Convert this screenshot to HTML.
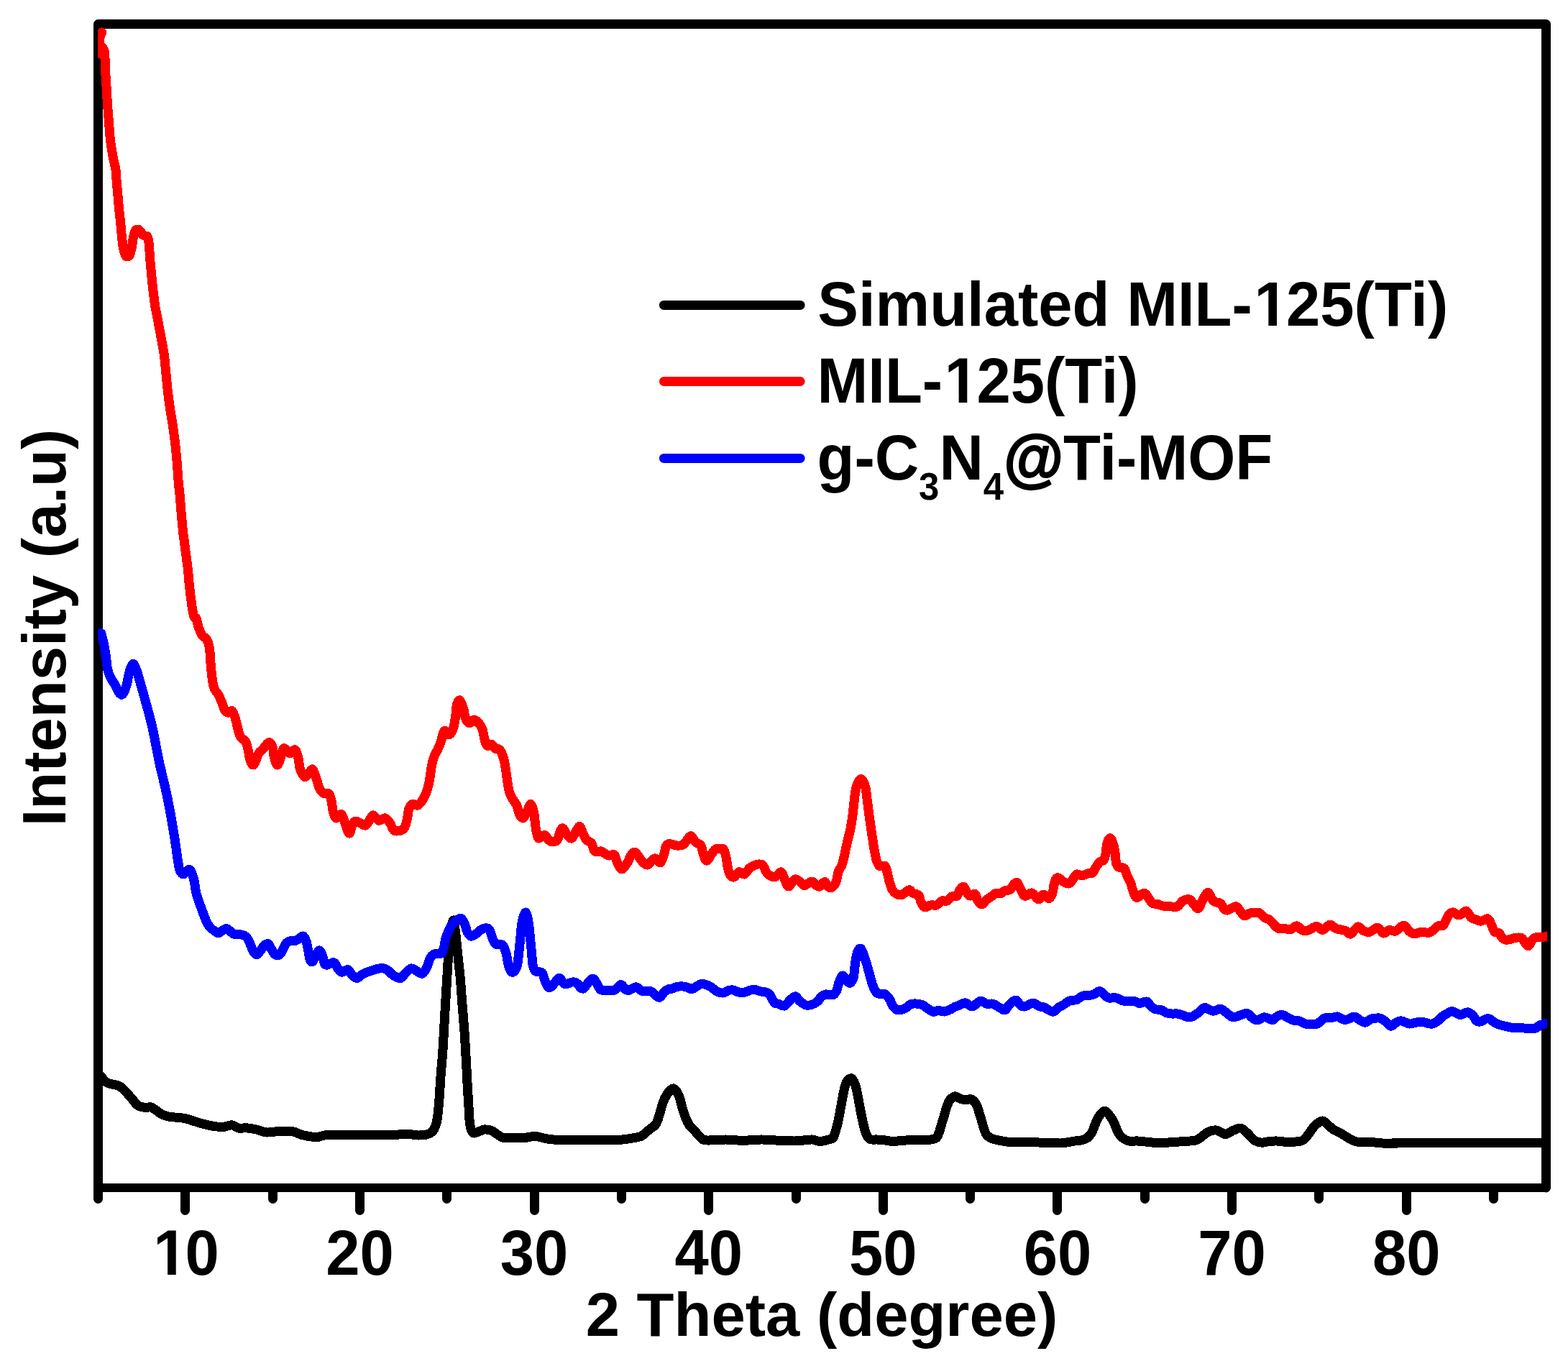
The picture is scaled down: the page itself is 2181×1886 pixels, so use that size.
<!DOCTYPE html>
<html lang="en">
<head>
<meta charset="utf-8">
<title>XRD patterns</title>
<style>
html,body{margin:0;padding:0;background:#fff;}
body{width:2181px;height:1886px;overflow:hidden;}
svg{display:block;}
text{font-family:"Liberation Sans",sans-serif;font-weight:bold;font-size:85px;fill:#000;}
.curve{fill:none;stroke-width:13;stroke-linejoin:round;stroke-linecap:round;}
</style>
</head>
<body>
<svg width="2181" height="1886" viewBox="0 0 2181 1886">
<defs><clipPath id="plot"><rect x="136.2" y="33" width="2016.0" height="1619"/></clipPath></defs>
<rect x="0" y="0" width="2181" height="1886" fill="#fff"/>
<g fill="none" stroke="#000" stroke-linecap="round" stroke-linejoin="round">
<path d="M136.5,1667.5 L136.5,33.5 L2150.5,33.5 L2150.5,1652" stroke-width="13"/>
<path d="M136.5,1652 L2150.5,1652" stroke-width="12"/>
<g stroke-width="13">
<line x1="257.5" y1="1653" x2="257.5" y2="1683.5"/>
<line x1="379.5" y1="1653" x2="379.5" y2="1667.5"/>
<line x1="500.5" y1="1653" x2="500.5" y2="1683.5"/>
<line x1="621.5" y1="1653" x2="621.5" y2="1667.5"/>
<line x1="743.5" y1="1653" x2="743.5" y2="1683.5"/>
<line x1="864.5" y1="1653" x2="864.5" y2="1667.5"/>
<line x1="985.5" y1="1653" x2="985.5" y2="1683.5"/>
<line x1="1107.5" y1="1653" x2="1107.5" y2="1667.5"/>
<line x1="1228.5" y1="1653" x2="1228.5" y2="1683.5"/>
<line x1="1349.5" y1="1653" x2="1349.5" y2="1667.5"/>
<line x1="1470.5" y1="1653" x2="1470.5" y2="1683.5"/>
<line x1="1592.5" y1="1653" x2="1592.5" y2="1667.5"/>
<line x1="1713.5" y1="1653" x2="1713.5" y2="1683.5"/>
<line x1="1834.5" y1="1653" x2="1834.5" y2="1667.5"/>
<line x1="1956.5" y1="1653" x2="1956.5" y2="1683.5"/>
<line x1="2077.5" y1="1653" x2="2077.5" y2="1667.5"/>
</g>
</g>
<g clip-path="url(#plot)" shape-rendering="crispEdges">
<path class="curve" stroke="#000" d="M140.5,1497.0 C141.7,1498.3 145.1,1503.2 147.5,1505.0 C149.9,1506.8 152.1,1506.9 155.0,1507.8 C157.9,1508.6 162.5,1509.0 165.0,1510.0 C167.5,1511.0 167.9,1511.9 170.0,1513.8 C172.1,1515.6 175.0,1518.5 177.5,1521.2 C180.0,1524.0 182.9,1527.5 185.0,1530.0 C187.1,1532.5 188.3,1534.8 190.0,1536.2 C191.7,1537.8 192.9,1538.3 195.0,1539.0 C197.1,1539.7 200.0,1540.3 202.5,1540.5 C205.0,1540.7 207.5,1539.3 210.0,1540.0 C212.5,1540.7 215.0,1542.9 217.5,1544.5 C220.0,1546.1 222.5,1548.4 225.0,1549.8 C227.5,1551.1 230.0,1551.8 232.5,1552.5 C235.0,1553.2 237.1,1553.4 240.0,1553.8 C242.9,1554.1 246.7,1554.1 250.0,1554.5 C253.3,1554.9 256.7,1555.4 260.0,1556.2 C263.3,1557.1 266.7,1558.5 270.0,1559.5 C273.3,1560.5 275.8,1561.4 280.0,1562.5 C284.2,1563.6 290.0,1565.2 295.0,1566.0 C300.0,1566.8 305.4,1567.7 310.0,1567.5 C314.6,1567.3 318.8,1564.5 322.5,1564.8 C326.2,1565.0 329.2,1568.6 332.5,1569.2 C335.8,1569.9 338.3,1568.4 342.5,1568.8 C346.7,1569.1 352.7,1570.2 357.5,1571.2 C362.3,1572.3 365.8,1574.7 371.2,1575.0 C376.7,1575.3 384.0,1573.5 390.0,1573.2 C396.0,1573.0 402.5,1572.9 407.5,1573.8 C412.5,1574.6 414.6,1577.2 420.0,1578.5 C425.4,1579.8 434.6,1581.5 440.0,1581.5 C445.4,1581.5 447.5,1579.3 452.5,1578.8 C457.5,1578.2 465.4,1578.0 470.0,1578.0 C474.6,1578.0 475.8,1578.7 480.0,1578.8 C484.2,1578.8 488.3,1578.2 495.0,1578.2 C501.7,1578.2 511.7,1578.7 520.0,1578.8 C528.3,1578.8 537.5,1579.0 545.0,1578.8 C552.5,1578.5 558.8,1577.2 565.0,1577.2 C571.2,1577.3 577.5,1579.0 582.5,1579.0 C587.5,1579.0 591.7,1578.6 595.0,1577.5 C598.3,1576.4 600.4,1575.4 602.5,1572.5 C604.6,1569.6 606.2,1566.2 607.5,1560.0 C608.8,1553.8 609.6,1545.4 610.5,1535.0 C611.4,1524.6 612.1,1510.0 613.0,1497.5 C613.9,1485.0 615.0,1474.6 616.0,1460.0 C617.0,1445.4 617.8,1426.7 618.8,1410.0 C619.7,1393.3 620.9,1374.6 621.8,1360.0 C622.6,1345.4 623.5,1330.0 624.0,1322.5 C624.5,1315.0 624.4,1320.0 625.0,1315.0 C625.6,1310.0 626.6,1298.4 627.5,1292.5 C628.4,1286.6 629.6,1279.8 630.5,1279.8 C631.4,1279.8 632.2,1286.6 633.0,1292.5 C633.8,1298.4 634.8,1307.9 635.5,1315.0 C636.2,1322.1 636.7,1327.5 637.5,1335.0 C638.3,1342.5 639.3,1349.6 640.2,1360.0 C641.2,1370.4 642.0,1385.0 643.0,1397.5 C644.0,1410.0 645.1,1422.5 646.0,1435.0 C646.9,1447.5 647.5,1460.0 648.2,1472.5 C649.0,1485.0 649.6,1498.8 650.2,1510.0 C650.9,1521.2 651.5,1531.7 652.0,1540.0 C652.5,1548.3 652.8,1555.0 653.2,1560.0 C653.8,1565.0 654.1,1567.3 655.0,1570.0 C655.9,1572.7 656.9,1575.4 658.8,1576.0 C660.6,1576.6 663.8,1574.6 666.2,1573.8 C668.8,1572.9 670.8,1571.2 673.8,1571.0 C676.7,1570.8 680.8,1571.4 683.8,1572.5 C686.7,1573.6 688.5,1575.8 691.2,1577.5 C694.0,1579.2 696.9,1581.8 700.0,1582.5 C703.1,1583.2 706.7,1582.0 710.0,1582.0 C713.3,1582.0 716.7,1582.4 720.0,1582.5 C723.3,1582.6 726.7,1582.8 730.0,1582.5 C733.3,1582.2 737.1,1581.0 740.0,1580.8 C742.9,1580.5 744.6,1580.3 747.5,1580.8 C750.4,1581.2 753.8,1582.5 757.5,1583.2 C761.2,1584.0 763.8,1584.6 770.0,1585.0 C776.2,1585.4 786.7,1585.6 795.0,1585.8 C803.3,1585.9 811.7,1585.8 820.0,1585.8 C828.3,1585.8 838.8,1585.8 845.0,1585.8 C851.2,1585.8 853.3,1586.0 857.5,1585.8 C861.7,1585.5 865.8,1585.0 870.0,1584.5 C874.2,1584.0 878.8,1583.2 882.5,1582.5 C886.2,1581.8 889.6,1581.5 892.5,1580.0 C895.4,1578.5 897.7,1575.6 900.0,1573.8 C902.3,1571.9 904.4,1570.2 906.2,1568.8 C908.1,1567.3 909.8,1566.9 911.2,1565.0 C912.7,1563.1 913.8,1560.8 915.0,1557.5 C916.2,1554.2 917.5,1549.2 918.8,1545.0 C920.0,1540.8 921.0,1536.2 922.5,1532.5 C924.0,1528.8 925.8,1525.2 927.5,1522.5 C929.2,1519.8 930.9,1517.7 932.5,1516.2 C934.1,1514.8 935.3,1513.4 937.0,1514.0 C938.7,1514.6 941.0,1517.3 942.5,1520.0 C944.0,1522.7 945.1,1526.2 946.2,1530.0 C947.4,1533.8 948.2,1538.3 949.5,1542.5 C950.8,1546.7 952.2,1551.2 953.8,1555.0 C955.3,1558.8 956.9,1562.3 958.8,1565.0 C960.6,1567.7 963.1,1569.2 965.0,1571.2 C966.9,1573.3 968.3,1575.6 970.0,1577.5 C971.7,1579.4 973.3,1581.1 975.0,1582.5 C976.7,1583.9 976.7,1585.2 980.0,1585.8 C983.3,1586.3 990.0,1585.9 995.0,1585.8 C1000.0,1585.6 1004.2,1584.9 1010.0,1585.0 C1015.8,1585.1 1024.2,1586.1 1030.0,1586.2 C1035.8,1586.4 1040.0,1586.0 1045.0,1585.8 C1050.0,1585.5 1053.8,1584.9 1060.0,1585.0 C1066.2,1585.1 1075.0,1585.9 1082.5,1586.2 C1090.0,1586.6 1098.8,1587.1 1105.0,1587.0 C1111.2,1586.9 1115.8,1586.1 1120.0,1585.8 C1124.2,1585.4 1127.1,1584.8 1130.0,1585.0 C1132.9,1585.2 1135.0,1586.7 1137.5,1587.0 C1140.0,1587.3 1142.5,1587.3 1145.0,1587.0 C1147.5,1586.7 1150.2,1585.8 1152.5,1585.0 C1154.8,1584.2 1157.1,1584.6 1158.8,1582.5 C1160.4,1580.4 1161.2,1576.7 1162.5,1572.5 C1163.8,1568.3 1165.0,1563.3 1166.2,1557.5 C1167.5,1551.7 1168.8,1544.2 1170.0,1537.5 C1171.2,1530.8 1172.5,1522.9 1173.8,1517.5 C1175.0,1512.1 1175.7,1508.0 1177.5,1505.0 C1179.3,1502.0 1182.4,1498.9 1184.5,1499.8 C1186.6,1500.6 1188.5,1505.4 1190.0,1510.0 C1191.5,1514.6 1192.5,1521.2 1193.8,1527.5 C1195.0,1533.8 1196.2,1541.2 1197.5,1547.5 C1198.8,1553.8 1200.0,1560.0 1201.2,1565.0 C1202.5,1570.0 1203.5,1574.2 1205.0,1577.5 C1206.5,1580.8 1207.5,1583.2 1210.0,1584.5 C1212.5,1585.8 1216.7,1584.8 1220.0,1585.0 C1223.3,1585.2 1226.2,1585.3 1230.0,1585.8 C1233.8,1586.2 1238.3,1587.4 1242.5,1587.5 C1246.7,1587.6 1250.4,1586.5 1255.0,1586.2 C1259.6,1586.0 1265.0,1585.8 1270.0,1585.8 C1275.0,1585.7 1280.8,1585.9 1285.0,1585.8 C1289.2,1585.6 1292.1,1585.5 1295.0,1585.0 C1297.9,1584.5 1300.6,1584.2 1302.5,1582.5 C1304.4,1580.8 1305.0,1578.3 1306.2,1575.0 C1307.5,1571.7 1308.8,1566.7 1310.0,1562.5 C1311.2,1558.3 1312.5,1554.2 1313.8,1550.0 C1315.0,1545.8 1316.2,1540.8 1317.5,1537.5 C1318.8,1534.2 1319.5,1532.1 1321.2,1530.0 C1323.0,1527.9 1325.3,1525.0 1328.0,1524.8 C1330.7,1524.5 1334.7,1528.0 1337.5,1528.8 C1340.3,1529.5 1342.7,1529.5 1345.0,1529.5 C1347.3,1529.5 1349.2,1528.1 1351.2,1529.0 C1353.3,1529.9 1355.8,1532.3 1357.5,1535.0 C1359.2,1537.7 1360.0,1541.2 1361.2,1545.0 C1362.5,1548.8 1363.8,1553.3 1365.0,1557.5 C1366.2,1561.7 1367.5,1566.5 1368.8,1570.0 C1370.0,1573.5 1370.6,1576.5 1372.5,1578.8 C1374.4,1581.0 1377.1,1582.5 1380.0,1583.8 C1382.9,1585.0 1386.2,1585.5 1390.0,1586.2 C1393.8,1587.0 1397.5,1587.9 1402.5,1588.2 C1407.5,1588.6 1413.8,1588.2 1420.0,1588.2 C1426.2,1588.3 1433.8,1588.5 1440.0,1588.8 C1446.2,1589.0 1451.7,1589.3 1457.5,1589.5 C1463.3,1589.7 1470.4,1590.1 1475.0,1590.0 C1479.6,1589.9 1481.7,1589.2 1485.0,1588.8 C1488.3,1588.2 1491.7,1587.5 1495.0,1587.0 C1498.3,1586.5 1502.1,1586.5 1505.0,1585.8 C1507.9,1585.0 1510.2,1584.3 1512.5,1582.5 C1514.8,1580.7 1516.9,1578.3 1518.8,1575.0 C1520.6,1571.7 1522.1,1566.2 1523.8,1562.5 C1525.4,1558.8 1526.5,1555.4 1528.8,1552.5 C1531.0,1549.6 1534.3,1545.0 1537.0,1545.2 C1539.7,1545.5 1542.8,1550.9 1545.0,1553.8 C1547.2,1556.6 1548.3,1559.0 1550.0,1562.5 C1551.7,1566.0 1553.1,1571.7 1555.0,1575.0 C1556.9,1578.3 1558.8,1580.5 1561.2,1582.5 C1563.8,1584.5 1566.5,1586.2 1570.0,1587.0 C1573.5,1587.8 1577.5,1586.7 1582.5,1587.0 C1587.5,1587.3 1594.6,1588.2 1600.0,1588.8 C1605.4,1589.2 1610.4,1590.0 1615.0,1590.0 C1619.6,1590.0 1623.7,1589.0 1627.5,1588.8 C1631.3,1588.5 1635.1,1588.5 1638.0,1588.2 C1640.9,1588.0 1642.2,1587.7 1645.0,1587.5 C1647.8,1587.3 1651.7,1587.3 1655.0,1587.0 C1658.3,1586.7 1662.3,1586.5 1665.0,1585.5 C1667.7,1584.5 1669.2,1582.8 1671.2,1581.2 C1673.3,1579.7 1675.4,1577.6 1677.5,1576.2 C1679.6,1574.9 1681.5,1573.7 1683.8,1573.0 C1686.0,1572.3 1688.8,1571.7 1691.2,1572.0 C1693.8,1572.3 1696.5,1574.1 1698.8,1575.0 C1701.0,1575.9 1702.3,1577.9 1705.0,1577.5 C1707.7,1577.1 1711.7,1573.9 1715.0,1572.5 C1718.3,1571.1 1722.1,1568.8 1725.0,1569.0 C1727.9,1569.2 1730.2,1571.9 1732.5,1573.8 C1734.8,1575.6 1736.7,1577.9 1738.8,1580.0 C1740.8,1582.1 1742.3,1584.7 1745.0,1586.2 C1747.7,1587.8 1751.7,1589.0 1755.0,1589.2 C1758.3,1589.5 1761.5,1587.9 1765.0,1587.5 C1768.5,1587.1 1772.5,1586.9 1776.2,1587.0 C1780.0,1587.1 1784.0,1588.0 1787.5,1588.2 C1791.0,1588.5 1794.2,1588.4 1797.5,1588.2 C1800.8,1588.1 1804.8,1588.0 1807.5,1587.5 C1810.2,1587.0 1811.7,1586.7 1813.8,1585.0 C1815.8,1583.3 1817.9,1580.2 1820.0,1577.5 C1822.1,1574.8 1824.2,1571.2 1826.2,1568.8 C1828.3,1566.2 1830.2,1564.1 1832.5,1562.5 C1834.8,1560.9 1837.5,1558.6 1840.0,1559.0 C1842.5,1559.4 1845.0,1563.0 1847.5,1565.0 C1850.0,1567.0 1852.1,1569.4 1855.0,1571.2 C1857.9,1573.1 1861.7,1574.4 1865.0,1576.2 C1868.3,1578.1 1871.7,1580.6 1875.0,1582.5 C1878.3,1584.4 1881.7,1586.5 1885.0,1587.5 C1888.3,1588.5 1890.8,1588.5 1895.0,1588.8 C1899.2,1589.0 1905.4,1588.5 1910.0,1588.8 C1914.6,1589.0 1916.7,1589.8 1922.5,1590.0 C1928.3,1590.2 1939.6,1590.1 1945.0,1590.0 C1950.4,1589.9 1920.0,1589.6 1955.0,1589.5 C1990.0,1589.4 2121.7,1589.5 2155.0,1589.5"/>
<path class="curve" stroke="#f00" d="M138.5,64.0 C139.5,64.9 143.4,65.3 144.7,69.5 C146.0,73.7 146.0,83.1 146.4,89.0 C146.8,94.9 146.7,99.8 147.0,105.0 C147.3,110.2 147.6,113.3 148.0,120.0 C148.4,126.7 148.9,136.7 149.5,145.0 C150.1,153.3 150.8,161.7 151.5,170.0 C152.2,178.3 152.6,187.1 153.5,195.0 C154.4,202.9 155.8,210.8 157.0,217.5 C158.2,224.2 159.9,229.2 160.8,235.0 C161.6,240.8 161.8,246.7 162.2,252.5 C162.8,258.3 163.2,263.8 163.8,270.0 C164.3,276.2 164.9,283.8 165.5,290.0 C166.1,296.2 166.9,301.7 167.5,307.5 C168.1,313.3 168.4,319.2 169.0,325.0 C169.6,330.8 170.2,337.7 171.0,342.5 C171.8,347.3 172.8,351.3 173.8,353.8 C174.8,356.2 175.8,357.0 177.0,357.0 C178.2,357.0 179.7,356.2 180.8,353.8 C181.8,351.3 182.7,346.5 183.5,342.5 C184.3,338.5 184.8,333.5 185.5,330.0 C186.2,326.5 187.0,323.1 188.0,321.2 C189.0,319.4 190.3,319.0 191.5,319.0 C192.7,319.0 193.9,320.0 195.0,321.2 C196.1,322.5 197.0,325.1 198.0,326.2 C199.0,327.4 200.1,327.5 201.2,328.0 C202.4,328.5 204.0,327.4 205.0,329.0 C206.0,330.6 206.4,332.8 207.0,337.5 C207.6,342.2 208.0,350.8 208.5,357.5 C209.0,364.2 209.7,371.2 210.2,377.5 C210.8,383.8 211.4,389.2 212.0,395.0 C212.6,400.8 213.3,407.1 214.0,412.5 C214.7,417.9 215.1,422.1 216.0,427.5 C216.9,432.9 218.2,438.2 219.5,445.0 C220.8,451.8 222.3,460.0 223.8,468.0 C225.2,476.0 227.1,484.7 228.2,493.0 C229.4,501.3 229.9,509.7 230.8,518.0 C231.6,526.3 232.3,534.7 233.2,543.0 C234.2,551.3 235.3,559.7 236.5,568.0 C237.7,576.3 239.3,584.7 240.5,593.0 C241.7,601.3 242.8,609.7 243.8,618.0 C244.7,626.3 245.5,634.7 246.2,643.0 C247.0,651.3 247.3,659.7 248.0,668.0 C248.7,676.3 249.8,684.7 250.5,693.0 C251.2,701.3 251.8,709.7 252.5,718.0 C253.2,726.3 254.0,734.7 255.0,743.0 C256.0,751.3 257.2,759.7 258.2,768.0 C259.3,776.3 260.6,784.7 261.5,793.0 C262.4,801.3 262.8,809.7 263.8,818.0 C264.7,826.3 266.0,836.3 267.0,843.0 C268.0,849.7 269.0,855.2 270.0,858.0 C271.0,860.8 272.0,857.6 273.0,860.0 C274.0,862.4 274.9,868.5 276.2,872.5 C277.6,876.5 279.5,881.0 281.2,883.8 C283.0,886.5 285.3,886.0 287.0,888.8 C288.7,891.5 290.2,894.4 291.2,900.0 C292.2,905.6 292.4,915.4 293.0,922.5 C293.6,929.6 294.2,936.7 295.0,942.5 C295.8,948.3 296.5,953.5 298.0,957.5 C299.5,961.5 302.0,962.9 303.8,966.2 C305.5,969.6 307.3,974.0 308.8,977.5 C310.2,981.0 311.0,985.2 312.5,987.5 C314.0,989.8 315.8,991.0 317.5,991.2 C319.2,991.5 321.3,987.5 323.0,989.0 C324.7,990.5 326.1,995.7 327.5,1000.0 C328.9,1004.3 330.1,1010.8 331.2,1015.0 C332.4,1019.2 332.8,1022.3 334.5,1025.0 C336.2,1027.7 339.5,1028.1 341.2,1031.0 C343.0,1033.9 343.9,1038.1 345.0,1042.5 C346.1,1046.9 346.8,1053.9 348.0,1057.5 C349.2,1061.1 350.6,1064.0 352.0,1064.0 C353.4,1064.0 354.9,1060.2 356.2,1057.5 C357.6,1054.8 358.3,1050.2 360.0,1047.5 C361.7,1044.8 364.4,1043.3 366.2,1041.2 C368.1,1039.2 369.8,1036.4 371.2,1035.0 C372.7,1033.6 373.6,1031.9 375.0,1032.8 C376.4,1033.6 378.5,1036.7 379.5,1040.0 C380.5,1043.3 380.2,1048.5 381.2,1052.5 C382.2,1056.5 384.0,1063.6 385.5,1064.0 C387.0,1064.4 388.8,1058.2 390.0,1055.0 C391.2,1051.8 391.5,1047.4 392.5,1045.0 C393.5,1042.6 394.0,1040.2 395.8,1040.8 C397.5,1041.2 400.5,1047.7 403.0,1048.0 C405.5,1048.3 408.5,1041.6 410.5,1042.8 C412.5,1043.9 413.8,1050.5 415.0,1055.0 C416.2,1059.5 416.0,1065.8 417.5,1070.0 C419.0,1074.2 421.7,1079.7 423.8,1080.5 C425.8,1081.3 428.1,1076.7 430.0,1075.0 C431.9,1073.3 433.3,1069.0 435.0,1070.2 C436.7,1071.5 438.5,1078.4 440.0,1082.5 C441.5,1086.6 442.1,1091.5 443.8,1095.0 C445.4,1098.5 447.7,1102.0 450.0,1103.5 C452.3,1105.0 455.6,1102.1 457.5,1104.0 C459.4,1105.9 460.3,1111.1 461.2,1115.0 C462.2,1118.9 462.0,1123.7 463.0,1127.5 C464.0,1131.3 465.5,1137.1 467.5,1138.0 C469.5,1138.9 472.9,1131.6 475.0,1132.8 C477.1,1133.9 478.2,1140.6 480.0,1145.0 C481.8,1149.4 484.1,1158.6 485.8,1159.0 C487.4,1159.4 488.6,1150.3 490.0,1147.5 C491.4,1144.7 492.4,1142.4 494.2,1142.0 C496.1,1141.6 498.8,1144.0 501.2,1145.0 C503.7,1146.0 506.5,1149.0 508.8,1148.0 C511.0,1147.0 513.2,1141.1 515.0,1138.8 C516.8,1136.4 517.2,1133.6 519.2,1134.0 C521.2,1134.4 524.3,1140.6 527.0,1141.2 C529.7,1141.9 532.9,1137.1 535.5,1137.8 C538.1,1138.4 540.7,1142.5 542.5,1145.0 C544.3,1147.5 544.9,1150.7 546.2,1152.5 C547.6,1154.3 548.0,1155.9 550.5,1156.0 C553.0,1156.1 558.6,1155.7 561.2,1153.0 C563.9,1150.3 565.0,1144.7 566.2,1140.0 C567.5,1135.3 567.5,1128.6 568.8,1125.0 C570.0,1121.4 571.7,1119.1 573.8,1118.2 C575.8,1117.4 578.8,1121.2 581.2,1120.0 C583.8,1118.8 586.7,1114.6 588.8,1111.2 C590.8,1107.9 592.3,1104.4 593.8,1100.0 C595.2,1095.6 596.5,1090.4 597.5,1085.0 C598.5,1079.6 599.0,1072.9 600.0,1067.5 C601.0,1062.1 602.3,1056.7 603.8,1052.5 C605.2,1048.3 607.1,1046.2 608.8,1042.5 C610.4,1038.8 612.5,1033.8 613.8,1030.0 C615.0,1026.2 615.4,1022.2 616.2,1020.0 C617.1,1017.8 618.1,1016.5 618.8,1016.5 C619.4,1016.5 618.8,1019.2 620.0,1020.0 C621.2,1020.8 624.4,1022.7 626.2,1021.0 C628.1,1019.3 630.0,1014.3 631.2,1010.0 C632.5,1005.7 633.0,1000.0 633.8,995.0 C634.5,990.0 634.5,983.5 635.5,980.0 C636.5,976.5 638.0,973.2 639.5,974.0 C641.0,974.8 643.2,981.1 644.5,985.0 C645.8,988.9 645.9,994.2 647.0,997.5 C648.1,1000.8 649.9,1003.8 651.2,1005.0 C652.6,1006.2 653.6,1005.7 655.0,1005.0 C656.4,1004.3 657.6,1000.8 659.5,1001.0 C661.4,1001.2 664.3,1003.9 666.2,1006.2 C668.2,1008.6 670.0,1011.5 671.2,1015.0 C672.5,1018.5 672.8,1024.0 673.8,1027.5 C674.7,1031.0 676.0,1034.7 677.0,1036.2 C678.0,1037.8 678.9,1037.2 680.0,1037.0 C681.1,1036.8 682.3,1034.5 683.8,1035.2 C685.2,1036.0 686.9,1040.0 688.8,1041.2 C690.6,1042.5 693.0,1040.5 695.0,1042.8 C697.0,1045.0 699.0,1050.0 700.5,1055.0 C702.0,1060.0 702.8,1066.7 703.8,1072.5 C704.7,1078.3 705.4,1085.0 706.2,1090.0 C707.1,1095.0 707.5,1098.8 708.8,1102.5 C710.0,1106.2 712.1,1109.6 713.8,1112.5 C715.4,1115.4 717.3,1116.7 718.8,1120.0 C720.2,1123.3 721.0,1129.5 722.5,1132.5 C724.0,1135.5 725.8,1138.4 727.5,1138.0 C729.2,1137.6 730.8,1133.2 732.5,1130.0 C734.2,1126.8 736.3,1118.5 738.0,1118.5 C739.7,1118.5 741.3,1124.8 742.5,1130.0 C743.7,1135.2 744.2,1144.6 745.0,1150.0 C745.8,1155.4 746.7,1159.8 747.5,1162.5 C748.3,1165.2 748.3,1166.2 750.0,1166.0 C751.7,1165.8 755.4,1161.2 757.5,1161.5 C759.6,1161.8 760.9,1166.0 762.5,1167.5 C764.1,1169.0 764.9,1170.3 767.0,1170.5 C769.1,1170.7 773.0,1170.9 775.0,1168.8 C777.0,1166.6 777.4,1160.3 778.8,1157.5 C780.1,1154.7 781.3,1151.4 783.0,1152.0 C784.7,1152.6 786.8,1158.9 788.8,1161.2 C790.8,1163.6 793.0,1166.6 795.0,1166.0 C797.0,1165.4 798.6,1160.2 800.5,1157.5 C802.4,1154.8 804.5,1149.1 806.2,1149.5 C808.0,1149.9 809.6,1156.8 811.2,1160.0 C812.9,1163.2 814.4,1166.7 816.2,1168.8 C818.1,1170.8 820.8,1170.2 822.5,1172.5 C824.2,1174.8 825.0,1180.5 826.2,1182.5 C827.5,1184.5 828.3,1184.5 830.0,1184.8 C831.7,1185.0 834.0,1183.3 836.2,1184.0 C838.5,1184.7 841.9,1187.8 843.8,1188.8 C845.6,1189.8 845.7,1190.0 847.5,1190.0 C849.3,1190.0 852.6,1187.3 854.5,1189.0 C856.4,1190.7 857.0,1196.7 858.8,1200.0 C860.5,1203.3 862.7,1209.0 865.0,1209.0 C867.3,1209.0 870.4,1203.2 872.5,1200.0 C874.6,1196.8 875.8,1192.5 877.5,1190.0 C879.2,1187.5 880.9,1184.6 883.0,1185.2 C885.1,1185.9 888.0,1191.3 890.0,1193.8 C892.0,1196.2 893.2,1198.5 895.0,1200.0 C896.8,1201.5 898.6,1203.4 900.5,1203.0 C902.4,1202.6 904.5,1199.0 906.2,1197.5 C908.0,1196.0 909.2,1193.6 911.2,1194.0 C913.3,1194.4 916.7,1200.8 918.8,1199.8 C920.8,1198.7 922.5,1191.2 923.8,1187.5 C925.0,1183.8 925.1,1179.8 926.2,1177.5 C927.4,1175.2 928.0,1173.8 930.5,1173.5 C933.0,1173.2 938.0,1175.8 941.2,1176.0 C944.5,1176.2 947.5,1176.4 950.0,1175.0 C952.5,1173.6 954.4,1169.5 956.2,1167.5 C958.1,1165.5 959.4,1162.1 961.2,1162.8 C963.1,1163.4 965.2,1169.0 967.5,1171.2 C969.8,1173.5 973.2,1173.3 975.0,1176.0 C976.8,1178.7 976.7,1184.0 978.0,1187.5 C979.3,1191.0 981.0,1197.2 983.0,1197.2 C985.0,1197.2 988.0,1190.2 990.0,1187.5 C992.0,1184.8 993.1,1182.4 995.0,1181.2 C996.9,1180.1 999.4,1180.8 1001.2,1180.8 C1003.1,1180.8 1004.8,1179.3 1006.2,1181.2 C1007.7,1183.2 1009.0,1188.1 1010.0,1192.5 C1011.0,1196.9 1011.5,1203.3 1012.5,1207.5 C1013.5,1211.7 1014.8,1215.5 1016.2,1217.5 C1017.7,1219.5 1019.3,1220.5 1021.2,1219.8 C1023.2,1219.0 1025.6,1213.4 1028.0,1212.8 C1030.4,1212.1 1033.1,1216.9 1035.5,1216.0 C1037.9,1215.1 1040.3,1209.5 1042.5,1207.5 C1044.7,1205.5 1046.7,1204.7 1048.8,1203.8 C1050.8,1202.8 1052.9,1202.0 1055.0,1202.0 C1057.1,1202.0 1059.2,1201.6 1061.2,1203.8 C1063.3,1205.9 1064.7,1212.3 1067.5,1215.0 C1070.3,1217.7 1074.9,1220.1 1078.0,1219.8 C1081.1,1219.4 1084.0,1212.3 1086.2,1212.8 C1088.5,1213.2 1089.5,1219.1 1091.2,1222.5 C1093.0,1225.9 1094.5,1233.0 1097.0,1233.0 C1099.5,1233.0 1102.8,1223.1 1106.2,1222.8 C1109.8,1222.4 1115.7,1229.6 1118.0,1231.0 C1120.3,1232.4 1118.1,1232.1 1120.0,1231.2 C1121.9,1230.4 1127.0,1226.0 1129.5,1226.0 C1132.0,1226.0 1133.2,1230.1 1135.0,1231.2 C1136.8,1232.4 1138.0,1233.8 1140.0,1233.0 C1142.0,1232.2 1145.1,1226.6 1147.0,1226.5 C1148.9,1226.4 1149.7,1231.1 1151.2,1232.5 C1152.8,1233.9 1154.4,1235.6 1156.2,1234.8 C1158.1,1233.9 1160.8,1231.2 1162.5,1227.5 C1164.2,1223.8 1164.8,1216.7 1166.2,1212.5 C1167.7,1208.3 1169.8,1206.7 1171.2,1202.5 C1172.7,1198.3 1173.8,1192.9 1175.0,1187.5 C1176.2,1182.1 1177.5,1175.4 1178.8,1170.0 C1180.0,1164.6 1181.4,1160.4 1182.5,1155.0 C1183.6,1149.6 1184.7,1143.3 1185.5,1137.5 C1186.3,1131.7 1186.8,1126.2 1187.5,1120.0 C1188.2,1113.8 1189.0,1105.4 1190.0,1100.0 C1191.0,1094.6 1192.3,1090.2 1193.8,1087.5 C1195.2,1084.8 1197.1,1082.8 1198.8,1084.0 C1200.4,1085.2 1202.5,1090.2 1203.8,1095.0 C1205.0,1099.8 1205.4,1106.2 1206.2,1112.5 C1207.1,1118.8 1207.9,1126.2 1208.8,1132.5 C1209.6,1138.8 1210.4,1144.2 1211.2,1150.0 C1212.1,1155.8 1212.9,1162.1 1213.8,1167.5 C1214.6,1172.9 1215.3,1177.5 1216.2,1182.5 C1217.2,1187.5 1218.2,1193.8 1219.5,1197.5 C1220.8,1201.2 1221.8,1203.5 1223.8,1204.8 C1225.7,1206.0 1229.4,1202.6 1231.2,1204.8 C1233.1,1206.9 1234.0,1213.7 1235.0,1217.5 C1236.0,1221.3 1236.5,1224.2 1237.5,1227.5 C1238.5,1230.8 1239.8,1234.9 1241.2,1237.5 C1242.7,1240.1 1244.2,1241.8 1246.2,1243.0 C1248.3,1244.2 1250.7,1245.6 1253.8,1244.8 C1256.8,1243.9 1261.8,1238.1 1264.5,1237.8 C1267.2,1237.4 1267.8,1241.3 1270.0,1242.5 C1272.2,1243.7 1275.6,1242.9 1277.5,1245.0 C1279.4,1247.1 1279.8,1252.2 1281.2,1255.0 C1282.7,1257.8 1284.0,1261.1 1286.2,1261.8 C1288.5,1262.4 1292.3,1259.2 1295.0,1258.8 C1297.7,1258.3 1300.0,1260.0 1302.5,1259.0 C1305.0,1258.0 1307.5,1254.0 1310.0,1253.0 C1312.5,1252.0 1315.2,1254.0 1317.5,1253.0 C1319.8,1252.0 1321.5,1248.1 1323.8,1247.0 C1326.0,1245.9 1329.4,1247.8 1331.2,1246.2 C1333.1,1244.7 1333.5,1239.6 1335.0,1237.5 C1336.5,1235.4 1338.6,1232.5 1340.5,1233.5 C1342.4,1234.5 1344.8,1241.7 1346.2,1243.8 C1347.8,1245.8 1347.8,1246.0 1349.5,1246.0 C1351.2,1246.0 1354.5,1242.4 1356.2,1243.5 C1358.0,1244.6 1358.5,1250.1 1360.0,1252.5 C1361.5,1254.9 1363.4,1258.2 1365.5,1258.0 C1367.6,1257.8 1370.1,1253.2 1372.5,1251.2 C1374.9,1249.3 1377.9,1247.7 1380.0,1246.2 C1382.1,1244.8 1382.9,1243.1 1385.0,1242.5 C1387.1,1241.9 1390.4,1243.1 1392.5,1242.5 C1394.6,1241.9 1395.4,1239.6 1397.5,1238.8 C1399.6,1237.9 1402.9,1239.0 1405.0,1237.5 C1407.1,1236.0 1408.3,1231.6 1410.0,1230.0 C1411.7,1228.4 1413.3,1226.5 1415.0,1227.8 C1416.7,1229.0 1418.5,1234.6 1420.0,1237.5 C1421.5,1240.4 1422.5,1243.6 1423.8,1245.0 C1425.0,1246.4 1425.5,1246.5 1427.5,1246.0 C1429.5,1245.5 1432.7,1241.2 1435.5,1242.0 C1438.3,1242.8 1441.9,1250.7 1444.5,1251.0 C1447.1,1251.3 1448.9,1244.2 1451.2,1244.0 C1453.6,1243.8 1456.7,1250.0 1458.8,1249.8 C1460.8,1249.5 1462.5,1245.8 1463.8,1242.5 C1465.0,1239.2 1465.4,1233.3 1466.2,1230.0 C1467.1,1226.7 1467.7,1224.0 1468.8,1222.5 C1469.8,1221.0 1470.8,1220.4 1472.5,1221.0 C1474.2,1221.6 1476.3,1224.9 1478.8,1226.2 C1481.2,1227.6 1484.7,1229.6 1487.0,1229.0 C1489.3,1228.4 1490.8,1224.7 1492.5,1222.5 C1494.2,1220.3 1495.4,1216.8 1497.5,1216.0 C1499.6,1215.2 1502.5,1218.2 1505.0,1218.0 C1507.5,1217.8 1510.0,1215.7 1512.5,1215.0 C1515.0,1214.3 1517.9,1215.4 1520.0,1213.8 C1522.1,1212.1 1523.3,1207.5 1525.0,1205.0 C1526.7,1202.5 1528.3,1200.2 1530.0,1198.8 C1531.7,1197.3 1533.7,1198.1 1535.0,1196.2 C1536.3,1194.4 1537.2,1191.5 1538.0,1187.5 C1538.8,1183.5 1538.9,1176.1 1540.0,1172.5 C1541.1,1168.9 1543.0,1165.3 1544.5,1165.8 C1546.0,1166.2 1547.6,1171.4 1548.8,1175.0 C1549.9,1178.6 1550.6,1183.3 1551.2,1187.5 C1551.9,1191.7 1551.7,1196.9 1552.5,1200.0 C1553.3,1203.1 1554.4,1205.0 1556.2,1206.2 C1558.1,1207.5 1561.9,1205.9 1563.8,1207.8 C1565.6,1209.6 1566.0,1214.2 1567.5,1217.5 C1569.0,1220.8 1571.0,1223.8 1572.5,1227.5 C1574.0,1231.2 1574.8,1236.5 1576.2,1240.0 C1577.7,1243.5 1578.8,1248.1 1581.2,1248.5 C1583.8,1248.9 1588.5,1242.2 1591.2,1242.2 C1594.0,1242.3 1595.6,1246.4 1597.5,1248.8 C1599.4,1251.1 1600.4,1254.8 1602.5,1256.2 C1604.6,1257.7 1607.5,1256.9 1610.0,1257.5 C1612.5,1258.1 1614.6,1259.5 1617.5,1260.0 C1620.4,1260.5 1624.1,1260.6 1627.5,1260.8 C1630.9,1260.9 1635.1,1262.0 1638.0,1260.8 C1640.9,1259.5 1642.2,1254.6 1645.0,1253.0 C1647.8,1251.4 1652.3,1250.3 1655.0,1251.2 C1657.7,1252.2 1659.2,1256.7 1661.2,1258.8 C1663.2,1260.8 1665.1,1264.5 1667.0,1263.5 C1668.9,1262.5 1670.3,1256.2 1672.5,1252.5 C1674.7,1248.8 1677.7,1241.7 1680.0,1241.5 C1682.3,1241.3 1684.4,1249.0 1686.2,1251.2 C1688.1,1253.5 1689.4,1254.2 1691.2,1255.0 C1693.1,1255.8 1695.6,1254.8 1697.5,1256.2 C1699.4,1257.7 1700.8,1262.1 1702.5,1263.8 C1704.2,1265.4 1704.7,1266.5 1707.5,1266.0 C1710.3,1265.5 1716.1,1260.3 1719.2,1260.8 C1722.4,1261.2 1724.2,1266.5 1726.2,1268.8 C1728.2,1271.0 1729.2,1273.8 1731.2,1274.0 C1733.3,1274.2 1736.5,1270.7 1738.8,1270.0 C1741.0,1269.3 1742.9,1270.1 1745.0,1270.0 C1747.1,1269.9 1749.0,1268.5 1751.2,1269.5 C1753.5,1270.5 1756.5,1274.7 1758.8,1276.2 C1761.0,1277.8 1763.1,1277.5 1765.0,1278.8 C1766.9,1280.0 1768.1,1281.9 1770.0,1283.8 C1771.9,1285.6 1774.6,1288.6 1776.2,1290.0 C1777.9,1291.4 1778.3,1291.8 1780.0,1292.0 C1781.7,1292.2 1783.8,1291.1 1786.2,1291.2 C1788.8,1291.4 1792.1,1293.3 1795.0,1292.8 C1797.9,1292.2 1801.0,1287.6 1803.8,1287.8 C1806.5,1287.9 1808.8,1292.7 1811.2,1293.8 C1813.8,1294.8 1815.4,1295.1 1818.8,1294.2 C1822.1,1293.4 1827.7,1288.6 1831.2,1288.5 C1834.8,1288.4 1836.9,1293.9 1840.0,1293.5 C1843.1,1293.1 1847.1,1286.4 1850.0,1286.0 C1852.9,1285.6 1855.0,1290.1 1857.5,1291.2 C1860.0,1292.4 1862.5,1292.4 1865.0,1293.0 C1867.5,1293.6 1870.2,1294.0 1872.5,1295.0 C1874.8,1296.0 1876.0,1300.0 1878.8,1299.0 C1881.5,1298.0 1885.8,1289.8 1888.8,1289.0 C1891.7,1288.2 1893.5,1293.3 1896.2,1294.5 C1899.0,1295.7 1901.7,1297.0 1905.0,1296.2 C1908.3,1295.5 1913.0,1290.0 1916.2,1290.2 C1919.5,1290.5 1921.8,1297.5 1924.5,1298.0 C1927.2,1298.5 1929.7,1294.0 1932.5,1293.5 C1935.3,1293.0 1937.9,1296.1 1941.2,1295.0 C1944.6,1293.9 1949.4,1287.0 1952.5,1287.0 C1955.6,1287.0 1957.6,1293.0 1960.0,1295.0 C1962.4,1297.0 1964.1,1298.8 1967.0,1299.0 C1969.9,1299.2 1974.1,1296.5 1977.5,1296.2 C1980.9,1296.0 1984.6,1297.9 1987.5,1297.2 C1990.4,1296.6 1992.9,1294.0 1995.0,1292.5 C1997.1,1291.0 1997.9,1288.9 2000.0,1288.0 C2002.1,1287.1 2005.4,1288.8 2007.5,1287.0 C2009.6,1285.2 2011.0,1280.1 2012.5,1277.5 C2014.0,1274.9 2014.8,1272.7 2016.2,1271.2 C2017.7,1269.8 2019.0,1268.7 2021.2,1269.0 C2023.5,1269.3 2027.0,1273.3 2030.0,1273.0 C2033.0,1272.7 2036.8,1266.5 2039.5,1267.0 C2042.2,1267.5 2044.1,1274.3 2046.2,1276.2 C2048.4,1278.2 2050.2,1277.9 2052.5,1278.8 C2054.8,1279.6 2057.2,1281.4 2060.0,1281.2 C2062.8,1281.1 2067.0,1276.7 2069.5,1277.8 C2072.0,1278.8 2073.5,1284.4 2075.0,1287.5 C2076.5,1290.6 2077.1,1294.6 2078.8,1296.2 C2080.4,1297.9 2083.1,1296.0 2085.0,1297.5 C2086.9,1299.0 2088.1,1303.4 2090.0,1305.0 C2091.9,1306.6 2093.3,1307.3 2096.2,1307.2 C2099.2,1307.2 2104.2,1305.0 2107.5,1304.5 C2110.8,1304.0 2114.0,1303.4 2116.2,1304.5 C2118.5,1305.6 2119.6,1309.4 2121.2,1311.2 C2122.9,1313.1 2124.6,1316.1 2126.2,1315.5 C2127.9,1314.9 2129.6,1309.5 2131.2,1307.5 C2132.9,1305.5 2134.0,1304.4 2136.2,1303.8 C2138.5,1303.1 2141.9,1304.2 2145.0,1303.8 C2148.1,1303.3 2153.3,1301.7 2155.0,1301.2 M135.5,75.0 L138.5,64.0 L138.5,53.0 L141.6,45.0"/>
<path class="curve" stroke="#00f" d="M140.5,880.5 C141.0,882.5 142.7,887.6 143.8,892.5 C144.8,897.4 146.0,903.8 147.0,910.0 C148.0,916.2 148.4,924.6 149.5,930.0 C150.6,935.4 152.0,938.8 153.8,942.5 C155.5,946.2 158.1,949.2 160.0,952.5 C161.9,955.8 163.3,960.2 165.0,962.5 C166.7,964.8 168.2,967.2 170.0,966.0 C171.8,964.8 174.0,959.3 175.5,955.0 C177.0,950.7 177.8,944.2 178.8,940.0 C179.7,935.8 180.1,932.8 181.2,930.0 C182.4,927.2 184.0,923.1 185.5,923.5 C187.0,923.9 188.6,928.9 190.0,932.5 C191.4,936.1 192.2,939.6 193.8,945.0 C195.3,950.4 196.5,954.2 199.5,965.0 C202.5,975.8 207.8,994.2 211.5,1010.0 C215.2,1025.8 217.9,1043.3 221.5,1060.0 C225.1,1076.7 229.6,1093.3 233.0,1110.0 C236.4,1126.7 239.6,1145.4 242.0,1160.0 C244.4,1174.6 246.2,1189.2 247.5,1197.5 C248.8,1205.8 248.8,1206.9 250.0,1210.0 C251.2,1213.1 253.3,1215.8 255.0,1216.0 C256.7,1216.2 258.5,1212.3 260.0,1211.2 C261.5,1210.2 262.6,1208.9 263.8,1209.5 C264.9,1210.1 266.0,1212.4 267.0,1215.0 C268.0,1217.6 269.0,1220.4 270.0,1225.0 C271.0,1229.6 271.8,1237.5 273.0,1242.5 C274.2,1247.5 275.4,1250.4 277.0,1255.0 C278.6,1259.6 280.8,1265.4 282.5,1270.0 C284.2,1274.6 285.8,1279.2 287.5,1282.5 C289.2,1285.8 290.6,1287.9 292.5,1290.0 C294.4,1292.1 296.9,1293.7 298.8,1295.0 C300.6,1296.3 301.9,1298.2 303.8,1298.0 C305.6,1297.8 308.1,1294.8 310.0,1293.8 C311.9,1292.7 313.3,1291.3 315.0,1291.5 C316.7,1291.7 318.3,1293.7 320.0,1295.0 C321.7,1296.3 322.9,1298.5 325.0,1299.2 C327.1,1300.0 330.0,1299.2 332.5,1299.5 C335.0,1299.8 337.9,1300.1 340.0,1301.2 C342.1,1302.4 343.5,1304.0 345.0,1306.2 C346.5,1308.5 347.5,1312.1 348.8,1315.0 C350.0,1317.9 351.0,1321.6 352.5,1323.8 C354.0,1325.9 355.6,1328.4 357.5,1327.8 C359.4,1327.1 362.1,1322.1 363.8,1320.0 C365.4,1317.9 366.0,1316.2 367.5,1315.0 C369.0,1313.8 371.3,1311.9 373.0,1312.8 C374.7,1313.6 376.1,1317.8 377.5,1320.0 C378.9,1322.2 379.8,1324.8 381.2,1326.2 C382.7,1327.8 384.6,1329.2 386.2,1329.0 C387.9,1328.8 389.8,1326.9 391.2,1325.0 C392.7,1323.1 393.8,1319.8 395.0,1317.5 C396.2,1315.2 397.3,1312.7 398.8,1311.2 C400.2,1309.8 401.9,1309.2 403.8,1308.8 C405.6,1308.3 408.1,1309.2 410.0,1308.8 C411.9,1308.3 413.0,1307.4 415.0,1306.2 C417.0,1305.1 419.9,1301.4 421.8,1302.0 C423.6,1302.6 425.1,1306.6 426.2,1310.0 C427.4,1313.4 427.9,1318.3 428.8,1322.5 C429.6,1326.7 430.2,1332.5 431.2,1335.0 C432.3,1337.5 433.5,1338.5 435.0,1337.2 C436.5,1336.0 438.4,1330.0 440.0,1327.5 C441.6,1325.0 443.0,1321.6 444.5,1322.0 C446.0,1322.4 447.6,1327.0 448.8,1330.0 C449.9,1333.0 450.2,1338.0 451.2,1340.0 C452.3,1342.0 453.5,1342.2 455.0,1342.2 C456.5,1342.2 458.3,1340.5 460.0,1340.0 C461.7,1339.5 463.3,1337.8 465.0,1339.0 C466.7,1340.2 468.3,1345.3 470.0,1347.5 C471.7,1349.7 473.3,1351.8 475.0,1352.2 C476.7,1352.7 478.4,1350.5 480.0,1350.0 C481.6,1349.5 482.8,1348.0 484.5,1349.0 C486.2,1350.0 488.0,1354.3 490.0,1356.2 C492.0,1358.2 494.2,1360.5 496.2,1360.5 C498.3,1360.5 500.2,1357.6 502.5,1356.2 C504.8,1354.9 507.5,1353.5 510.0,1352.5 C512.5,1351.5 515.0,1350.8 517.5,1350.0 C520.0,1349.2 522.5,1348.1 525.0,1347.5 C527.5,1346.9 530.0,1346.1 532.5,1346.5 C535.0,1346.9 537.9,1348.6 540.0,1350.0 C542.1,1351.4 543.1,1353.5 545.0,1355.0 C546.9,1356.5 549.2,1357.8 551.2,1358.8 C553.3,1359.7 555.4,1361.3 557.5,1360.5 C559.6,1359.7 561.3,1356.0 563.8,1353.8 C566.2,1351.5 569.5,1347.6 572.0,1347.0 C574.5,1346.4 576.2,1348.8 578.8,1350.0 C581.3,1351.2 585.0,1355.1 587.5,1354.2 C590.0,1353.4 592.1,1348.2 593.8,1345.0 C595.4,1341.8 596.5,1337.5 597.5,1335.0 C598.5,1332.5 598.8,1331.4 600.0,1330.0 C601.2,1328.6 602.7,1327.1 605.0,1326.5 C607.3,1325.9 611.7,1327.8 613.8,1326.2 C615.8,1324.8 616.5,1321.0 617.5,1317.5 C618.5,1314.0 619.0,1308.6 620.0,1305.0 C621.0,1301.4 622.2,1298.8 623.5,1296.0 C624.8,1293.2 625.9,1290.4 627.5,1288.0 C629.1,1285.6 630.8,1283.3 633.0,1281.5 C635.2,1279.7 638.8,1276.7 641.0,1277.2 C643.2,1277.8 644.8,1281.8 646.2,1285.0 C647.8,1288.2 648.5,1293.4 650.0,1296.2 C651.5,1299.1 653.2,1302.0 655.5,1302.2 C657.8,1302.5 661.3,1299.1 663.8,1297.5 C666.2,1295.9 667.8,1293.6 670.0,1292.5 C672.2,1291.4 675.1,1290.5 677.0,1290.8 C678.9,1291.0 679.9,1291.4 681.2,1293.8 C682.6,1296.1 683.8,1301.9 685.0,1305.0 C686.2,1308.1 687.3,1311.0 688.8,1312.5 C690.2,1314.0 692.0,1313.4 693.8,1313.8 C695.5,1314.1 697.8,1312.9 699.5,1314.8 C701.2,1316.6 702.6,1321.2 703.8,1325.0 C704.9,1328.8 705.4,1333.8 706.2,1337.5 C707.1,1341.2 707.6,1345.0 708.8,1347.5 C709.9,1350.0 711.6,1352.7 713.2,1352.2 C714.9,1351.8 717.4,1348.7 718.8,1345.0 C720.1,1341.3 720.4,1336.7 721.2,1330.0 C722.1,1323.3 722.9,1312.9 723.8,1305.0 C724.6,1297.1 725.0,1288.5 726.2,1282.5 C727.5,1276.5 729.7,1268.6 731.2,1269.0 C732.8,1269.4 734.5,1279.0 735.5,1285.0 C736.5,1291.0 736.8,1298.3 737.5,1305.0 C738.2,1311.7 738.9,1318.8 739.5,1325.0 C740.1,1331.2 740.3,1338.2 741.2,1342.5 C742.2,1346.8 742.9,1349.3 745.0,1351.0 C747.1,1352.7 751.7,1350.8 753.8,1352.8 C755.8,1354.7 756.2,1359.4 757.5,1362.5 C758.8,1365.6 760.0,1369.4 761.2,1371.2 C762.5,1373.1 763.3,1374.1 765.0,1373.5 C766.7,1372.9 769.1,1369.7 771.2,1367.5 C773.4,1365.3 775.9,1360.2 778.0,1360.2 C780.1,1360.2 782.1,1366.1 783.8,1367.5 C785.4,1368.9 785.7,1368.8 788.0,1368.5 C790.3,1368.2 794.9,1365.7 797.5,1365.8 C800.1,1365.8 802.1,1367.4 803.8,1368.8 C805.4,1370.1 806.1,1372.8 807.5,1373.8 C808.9,1374.8 810.3,1375.8 812.0,1374.8 C813.7,1373.7 815.3,1369.8 817.5,1367.5 C819.7,1365.2 822.7,1360.6 825.0,1361.0 C827.3,1361.4 829.6,1367.5 831.2,1370.0 C832.9,1372.5 833.5,1375.0 835.0,1376.2 C836.5,1377.5 837.9,1377.3 840.0,1377.5 C842.1,1377.7 845.0,1377.6 847.5,1377.5 C850.0,1377.4 852.3,1378.3 855.0,1377.0 C857.7,1375.7 861.2,1369.6 863.8,1369.5 C866.2,1369.4 868.1,1375.0 870.0,1376.2 C871.9,1377.5 872.6,1377.8 875.0,1377.2 C877.4,1376.7 881.8,1372.7 884.5,1372.8 C887.2,1372.8 889.3,1376.5 891.2,1377.5 C893.2,1378.5 894.0,1378.8 896.2,1379.0 C898.5,1379.2 902.5,1377.7 905.0,1378.5 C907.5,1379.3 909.2,1382.3 911.2,1383.8 C913.3,1385.2 915.4,1387.9 917.5,1387.2 C919.6,1386.6 921.9,1381.8 923.8,1380.0 C925.6,1378.2 926.9,1377.1 928.8,1376.2 C930.6,1375.4 932.9,1375.6 935.0,1375.0 C937.1,1374.4 938.8,1373.0 941.2,1372.5 C943.8,1372.0 947.3,1371.8 950.0,1372.0 C952.7,1372.2 955.3,1373.2 957.5,1373.8 C959.7,1374.3 960.1,1376.4 963.0,1375.5 C965.9,1374.6 971.8,1369.4 975.0,1368.5 C978.2,1367.6 980.2,1369.3 982.5,1370.0 C984.8,1370.7 986.7,1371.2 988.8,1372.5 C990.8,1373.8 993.1,1376.2 995.0,1377.5 C996.9,1378.8 998.1,1379.4 1000.0,1380.0 C1001.9,1380.6 1004.0,1381.4 1006.2,1381.0 C1008.5,1380.6 1011.5,1378.2 1013.8,1377.5 C1016.0,1376.8 1017.2,1376.6 1019.5,1377.0 C1021.8,1377.4 1024.9,1379.4 1027.5,1380.0 C1030.1,1380.6 1032.5,1380.9 1035.0,1380.5 C1037.5,1380.1 1040.1,1378.2 1042.5,1377.5 C1044.9,1376.8 1047.0,1376.3 1049.5,1376.5 C1052.0,1376.7 1054.9,1378.2 1057.5,1378.8 C1060.1,1379.3 1062.9,1379.4 1065.0,1380.0 C1067.1,1380.6 1068.5,1381.0 1070.0,1382.5 C1071.5,1384.0 1072.5,1386.7 1073.8,1388.8 C1075.0,1390.8 1076.0,1393.8 1077.5,1395.0 C1079.0,1396.2 1080.2,1395.6 1082.5,1396.2 C1084.8,1396.9 1088.5,1399.8 1091.2,1399.0 C1094.0,1398.2 1096.2,1393.5 1098.8,1391.2 C1101.2,1389.0 1104.0,1385.5 1106.2,1385.8 C1108.5,1386.0 1110.0,1390.5 1112.5,1392.5 C1115.0,1394.5 1118.3,1397.2 1121.2,1398.0 C1124.2,1398.8 1127.3,1397.9 1130.0,1397.0 C1132.7,1396.1 1135.4,1394.3 1137.5,1392.5 C1139.6,1390.7 1140.6,1387.8 1142.5,1386.2 C1144.4,1384.7 1146.0,1383.4 1148.8,1383.0 C1151.5,1382.6 1156.2,1384.7 1158.8,1383.8 C1161.2,1382.8 1162.3,1380.6 1163.8,1377.5 C1165.2,1374.4 1166.0,1368.4 1167.5,1365.0 C1169.0,1361.6 1170.2,1356.6 1172.5,1357.0 C1174.8,1357.4 1178.8,1366.8 1181.2,1367.2 C1183.7,1367.8 1185.6,1364.5 1187.0,1360.0 C1188.4,1355.5 1188.6,1345.8 1189.5,1340.0 C1190.4,1334.2 1191.2,1328.4 1192.5,1325.0 C1193.8,1321.6 1195.6,1317.8 1197.5,1319.5 C1199.4,1321.2 1201.9,1329.5 1203.8,1335.0 C1205.6,1340.5 1207.1,1346.7 1208.8,1352.5 C1210.4,1358.3 1212.1,1365.4 1213.8,1370.0 C1215.4,1374.6 1217.1,1377.9 1218.8,1380.0 C1220.4,1382.1 1221.7,1382.0 1223.8,1382.5 C1225.8,1383.0 1229.0,1381.5 1231.2,1382.8 C1233.5,1384.0 1235.6,1387.1 1237.5,1390.0 C1239.4,1392.9 1240.6,1397.5 1242.5,1400.0 C1244.4,1402.5 1246.0,1404.3 1248.8,1404.8 C1251.5,1405.2 1255.8,1403.8 1258.8,1402.5 C1261.7,1401.2 1263.8,1398.1 1266.2,1397.0 C1268.8,1395.9 1271.0,1395.9 1273.8,1396.0 C1276.5,1396.1 1279.8,1396.4 1282.5,1397.5 C1285.2,1398.6 1287.4,1400.9 1290.0,1402.5 C1292.6,1404.1 1295.5,1406.8 1298.0,1407.2 C1300.5,1407.8 1302.4,1405.5 1305.0,1405.5 C1307.6,1405.5 1310.8,1407.3 1313.8,1407.0 C1316.7,1406.7 1320.0,1404.9 1322.5,1403.8 C1325.0,1402.6 1326.7,1401.0 1328.8,1400.0 C1330.8,1399.0 1332.7,1398.9 1335.0,1398.0 C1337.3,1397.1 1339.6,1394.5 1342.5,1394.8 C1345.4,1395.0 1349.0,1400.2 1352.5,1399.8 C1356.0,1399.3 1360.4,1392.8 1363.8,1392.2 C1367.1,1391.7 1369.6,1395.6 1372.5,1396.2 C1375.4,1396.9 1378.3,1395.4 1381.2,1396.2 C1384.2,1397.1 1387.2,1399.8 1390.0,1401.2 C1392.8,1402.7 1395.7,1405.4 1398.0,1404.8 C1400.3,1404.1 1401.2,1399.8 1403.8,1397.5 C1406.2,1395.2 1410.3,1390.8 1413.0,1391.0 C1415.7,1391.2 1417.8,1397.3 1420.0,1398.8 C1422.2,1400.2 1423.4,1400.4 1426.2,1399.8 C1429.1,1399.1 1433.9,1395.0 1437.0,1395.0 C1440.1,1395.0 1442.4,1398.5 1445.0,1399.5 C1447.6,1400.5 1449.2,1400.0 1452.5,1401.2 C1455.8,1402.5 1461.2,1407.2 1464.5,1407.2 C1467.8,1407.2 1469.9,1403.0 1472.5,1401.2 C1475.1,1399.5 1477.5,1398.5 1480.0,1397.0 C1482.5,1395.5 1484.6,1393.1 1487.5,1392.0 C1490.4,1390.9 1494.4,1391.7 1497.5,1390.5 C1500.6,1389.3 1503.3,1386.0 1506.2,1385.0 C1509.2,1384.0 1512.3,1384.9 1515.0,1384.5 C1517.7,1384.1 1520.0,1383.5 1522.5,1382.5 C1525.0,1381.5 1527.5,1378.1 1530.0,1378.5 C1532.5,1378.9 1535.4,1383.4 1537.5,1385.0 C1539.6,1386.6 1540.0,1387.5 1542.5,1388.0 C1545.0,1388.5 1549.2,1387.3 1552.5,1388.0 C1555.8,1388.7 1558.3,1391.2 1562.5,1392.0 C1566.7,1392.8 1573.8,1391.9 1577.5,1392.5 C1581.2,1393.1 1582.1,1395.4 1585.0,1395.5 C1587.9,1395.6 1592.3,1392.2 1595.0,1393.0 C1597.7,1393.8 1599.2,1398.2 1601.2,1400.0 C1603.3,1401.8 1605.2,1403.0 1607.5,1403.8 C1609.8,1404.5 1612.5,1403.7 1615.0,1404.5 C1617.5,1405.3 1620.0,1407.8 1622.5,1408.8 C1625.0,1409.7 1627.4,1409.8 1630.0,1410.0 C1632.6,1410.2 1635.5,1409.7 1638.0,1410.0 C1640.5,1410.3 1642.2,1411.2 1645.0,1412.0 C1647.8,1412.8 1651.7,1415.3 1655.0,1415.0 C1658.3,1414.7 1662.3,1411.8 1665.0,1410.0 C1667.7,1408.2 1669.4,1405.9 1671.2,1404.5 C1673.1,1403.1 1673.5,1401.2 1676.2,1401.5 C1679.0,1401.8 1684.0,1406.0 1687.5,1406.2 C1691.0,1406.5 1694.4,1402.8 1697.5,1403.2 C1700.6,1403.7 1703.8,1407.0 1706.2,1408.8 C1708.8,1410.5 1710.4,1412.8 1712.5,1413.8 C1714.6,1414.7 1716.2,1414.7 1718.8,1414.2 C1721.2,1413.8 1724.8,1412.0 1727.5,1411.2 C1730.2,1410.5 1732.5,1408.7 1735.0,1409.5 C1737.5,1410.3 1740.2,1414.7 1742.5,1416.2 C1744.8,1417.8 1746.0,1419.2 1748.8,1419.0 C1751.5,1418.8 1755.2,1414.8 1758.8,1414.8 C1762.3,1414.7 1767.1,1418.7 1770.0,1418.5 C1772.9,1418.3 1774.0,1414.9 1776.2,1413.8 C1778.5,1412.6 1781.0,1411.1 1783.8,1411.5 C1786.5,1411.9 1789.8,1415.0 1792.5,1416.2 C1795.2,1417.5 1797.5,1418.6 1800.0,1419.2 C1802.5,1419.9 1805.0,1419.2 1807.5,1420.0 C1810.0,1420.8 1812.5,1423.0 1815.0,1423.8 C1817.5,1424.5 1819.6,1424.8 1822.5,1424.8 C1825.4,1424.8 1829.6,1425.0 1832.5,1423.8 C1835.4,1422.5 1837.9,1418.9 1840.0,1417.5 C1842.1,1416.1 1842.9,1415.8 1845.0,1415.5 C1847.1,1415.2 1849.9,1415.8 1852.5,1415.5 C1855.1,1415.2 1857.4,1413.5 1860.5,1414.0 C1863.6,1414.5 1867.4,1418.5 1871.2,1418.5 C1875.1,1418.5 1880.4,1414.0 1883.8,1414.0 C1887.1,1414.0 1888.8,1417.4 1891.2,1418.8 C1893.8,1420.1 1896.2,1422.5 1898.8,1422.2 C1901.2,1422.0 1904.0,1418.5 1906.2,1417.5 C1908.5,1416.5 1910.2,1416.5 1912.5,1416.2 C1914.8,1416.0 1917.7,1415.6 1920.0,1416.2 C1922.3,1416.9 1923.8,1418.2 1926.2,1420.0 C1928.7,1421.8 1932.0,1426.8 1934.5,1427.2 C1937.0,1427.7 1938.9,1423.8 1941.2,1422.5 C1943.6,1421.2 1945.5,1419.5 1948.8,1419.8 C1952.0,1420.0 1957.0,1423.6 1960.5,1424.0 C1964.0,1424.4 1966.8,1422.4 1970.0,1422.0 C1973.2,1421.6 1976.5,1421.4 1980.0,1421.8 C1983.5,1422.1 1987.9,1424.5 1991.2,1424.2 C1994.6,1424.0 1997.5,1421.8 2000.0,1420.0 C2002.5,1418.2 2004.2,1415.4 2006.2,1413.8 C2008.3,1412.1 2010.2,1411.2 2012.5,1410.0 C2014.8,1408.8 2016.9,1406.2 2020.0,1406.5 C2023.1,1406.8 2027.7,1411.3 2031.2,1411.5 C2034.8,1411.7 2038.3,1407.6 2041.2,1407.8 C2044.2,1407.9 2046.7,1410.5 2048.8,1412.5 C2050.8,1414.5 2052.1,1418.6 2053.8,1420.0 C2055.4,1421.4 2056.1,1421.6 2058.8,1421.0 C2061.4,1420.4 2066.4,1416.5 2069.5,1416.5 C2072.6,1416.5 2074.9,1419.8 2077.5,1421.2 C2080.1,1422.7 2082.1,1424.0 2085.0,1425.0 C2087.9,1426.0 2091.7,1426.8 2095.0,1427.5 C2098.3,1428.2 2100.8,1429.1 2105.0,1429.5 C2109.2,1429.9 2115.0,1429.8 2120.0,1430.0 C2125.0,1430.2 2131.5,1431.1 2135.0,1430.5 C2138.5,1429.9 2139.2,1427.3 2141.2,1426.2 C2143.3,1425.2 2145.2,1424.8 2147.5,1424.2 C2149.8,1423.8 2153.8,1423.4 2155.0,1423.2"/>
</g>
<g stroke-width="13" stroke-linecap="round" fill="none">
<line x1="923.4" y1="424.4" x2="1113.1" y2="424.4" stroke="#000"/>
<line x1="923.4" y1="530.5" x2="1113.1" y2="530.5" stroke="#f00"/>
<line x1="923.4" y1="637.4" x2="1113.1" y2="637.4" stroke="#00f"/>
</g>
<g>
<text transform="translate(1137.3,452.8) scale(1,1.02)" dx="0 0 0 0 0 0 0 0 0 0 0 0 0 0 2.6 -2.6">Simulated MIL-125(Ti)</text>
<text transform="translate(1136.5,559.8) scale(1,1.038)" dx="0 0 0 0 2.6 -2.6">MIL-125(Ti)</text>
<text transform="translate(1136.5,667.0) scale(1,1.038)">g-C<tspan font-size="51" dy="27.2">3</tspan><tspan dy="-27.2">N</tspan><tspan font-size="51" dy="27.2">4</tspan><tspan dy="-27.2"><tspan stroke="#000" stroke-width="2.2" stroke-linejoin="round">@</tspan>Ti-MOF</tspan></text>
<text transform="translate(500.4,1773.1) scale(1,1.038)" text-anchor="middle">20</text>
<text transform="translate(743.1,1773.1) scale(1,1.038)" text-anchor="middle">30</text>
<text transform="translate(985.7,1773.1) scale(1,1.038)" text-anchor="middle">40</text>
<text transform="translate(1228.3,1773.1) scale(1,1.038)" text-anchor="middle">50</text>
<text transform="translate(1470.9,1773.1) scale(1,1.038)" text-anchor="middle">60</text>
<text transform="translate(1713.6,1773.1) scale(1,1.038)" text-anchor="middle">70</text>
<text transform="translate(1956.2,1773.1) scale(1,1.038)" text-anchor="middle">80</text>
<text transform="translate(213.14,1773.1) scale(1,1.038)" dx="0 -3">10</text>
<text transform="translate(1143,1858)" text-anchor="middle">2 Theta (degree)</text>
<text transform="translate(91.1,873) rotate(-90)" text-anchor="middle">Intensity (a.u)</text>
</g>
<g fill="#fff"><rect x="217.5" y="1763.5" width="15.6" height="10.1"/><rect x="244.74" y="1763.5" width="14.26" height="10.1"/><rect x="1318.5" y="550.5" width="15.1" height="10.1"/><rect x="1345.26" y="550.5" width="14.04" height="10.1"/><rect x="1748.5" y="443.5" width="15.86" height="10.1"/><rect x="1776.0" y="443.5" width="14.3" height="10.1"/></g>
</svg>
</body>
</html>
